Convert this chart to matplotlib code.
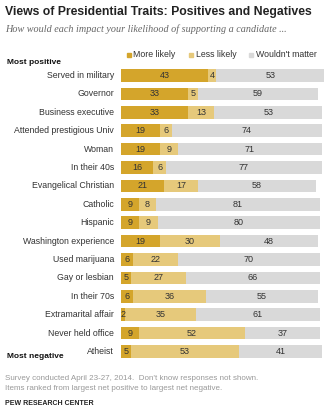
import matplotlib
matplotlib.use("Agg")
import matplotlib.pyplot as plt
import numpy as np

traits = ["Served in military", "Governor", "Business executive",
          "Attended prestigious Univ", "Woman", "In their 40s",
          "Evangelical Christian", "Catholic", "Hispanic",
          "Washington experience", "Used marijuana", "Gay or lesbian",
          "In their 70s", "Extramarital affair", "Never held office", "Atheist"]
more_likely = [43, 33, 33, 19, 19, 16, 21, 9, 9, 19, 6, 5, 6, 2, 9, 5]
less_likely = [4, 5, 13, 6, 9, 6, 17, 8, 9, 30, 22, 27, 36, 35, 52, 53]
wouldnt_matter = [53, 59, 53, 74, 71, 77, 58, 81, 80, 48, 70, 66, 55, 61, 37, 41]
series_names = ["More likely", "Less likely", "Wouldn't matter"]

colors = ["#D4A52B", "#E6C97B", "#D9D9D9"]
FONT = "Liberation Sans"

W, H = 336, 412
fig = plt.figure(figsize=(W / 100, H / 100), dpi=100)

# bar area in pixels
x0, x1 = 121, 324
top, bottom = 66.3, 360.7
ax = fig.add_axes([x0 / W, 1 - bottom / H, (x1 - x0) / W, (bottom - top) / H])
ax.set_xlim(0, 100)
ax.set_ylim(len(traits) - 0.5, -0.5)
ax.axis("off")

y = np.arange(len(traits))
left = np.zeros(len(traits))
for vals, col in zip([more_likely, less_likely, wouldnt_matter], colors):
    vals = np.array(vals, dtype=float)
    ax.barh(y, vals, left=left, height=0.68, color=col, edgecolor="none")
    for yi, v, l in zip(y, vals, left):
        ax.text(l + v / 2, yi, f"{int(v)}", ha="center", va="center",
                fontsize=6.5, color="#333333", family=FONT)
    left += vals

for yi, name in zip(y, traits):
    ax.text(-3.5, yi, name, ha="right", va="center", fontsize=6.3,
            color="#333333", family=FONT)

# title and subtitle
fig.text(5 / W, 1 - 12 / H, "Views of Presidential Traits: Positives and Negatives",
         ha="left", va="center", fontsize=8.8, fontweight="bold", color="#222222",
         family=FONT)
fig.text(5 / W, 1 - 29.5 / H,
         "How would each impact your likelihood of supporting a candidate ...",
         ha="left", va="center", fontsize=7.3, style="italic", color="#666666",
         family="Liberation Serif")

# legend
leg_sq = [126.5, 189, 249]
for sx, name, col in zip(leg_sq, series_names, colors):
    fig.patches.append(plt.Rectangle((sx / W, 1 - 57 / H), 4 / W, 4 / H,
                                     transform=fig.transFigure, color=col,
                                     figure=fig))
    fig.text((sx + 6.5) / W, 1 - 54.5 / H, name, ha="left", va="center",
             fontsize=6.3, color="#333333", family=FONT)

fig.text(7 / W, 1 - 62 / H, "Most positive", ha="left", va="center",
         fontsize=6.0, fontweight="bold", color="#111111", family=FONT)
fig.text(7 / W, 1 - 357 / H, "Most negative", ha="left", va="center",
         fontsize=6.0, fontweight="bold", color="#111111", family=FONT)

# notes and source
fig.text(5 / W, 1 - 378.5 / H,
         "Survey conducted April 23-27, 2014.  Don't know responses not shown.",
         ha="left", va="center", fontsize=5.75, color="#999999", family=FONT)
fig.text(5 / W, 1 - 388.5 / H,
         "Items ranked from largest net positive to largest net negative.",
         ha="left", va="center", fontsize=5.75, color="#999999", family=FONT)
fig.text(5 / W, 1 - 403.5 / H, "PEW RESEARCH CENTER", ha="left", va="center",
         fontsize=5.0, fontweight="bold", color="#222222", family=FONT)

fig.savefig("out.png", dpi=100, facecolor="white")
